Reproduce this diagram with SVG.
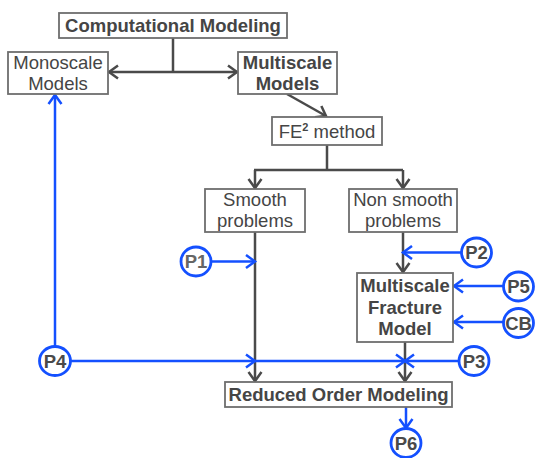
<svg xmlns="http://www.w3.org/2000/svg" width="540" height="458" viewBox="0 0 540 458">
<defs>
<marker id="ag" markerUnits="userSpaceOnUse" markerWidth="14" markerHeight="16" viewBox="0 0 14 16" refX="11" refY="8" orient="auto">
<path d="M2,1.5 L11,8 L2,14.5" fill="none" stroke="#4a4a4a" stroke-width="2.5"/>
</marker>
<marker id="ab" markerUnits="userSpaceOnUse" markerWidth="14" markerHeight="16" viewBox="0 0 14 16" refX="11" refY="8" orient="auto">
<path d="M2,1.5 L11,8 L2,14.5" fill="none" stroke="#1450ff" stroke-width="2.5"/>
</marker>
</defs>
<style>
.box{fill:#fff;stroke:#6e6e6e;stroke-width:1.8}
.t{font-family:"Liberation Sans",Arial,sans-serif;font-size:18.5px;fill:#454545;text-anchor:middle}
.b{font-weight:bold}
.g{fill:none;stroke:#4a4a4a;stroke-width:2.5}
.bl{fill:none;stroke:#1450ff;stroke-width:2.5}
.c{fill:#fff;stroke:#1450ff;stroke-width:2.8}
.ct{font-family:"Liberation Sans",Arial,sans-serif;font-size:18.5px;font-weight:bold;fill:#4a4a4a;text-anchor:middle}
</style>
<g id="connectors">
<path class="g" d="M173,38 V72"/>
<path class="g" d="M173,72 H109" marker-end="url(#ag)"/>
<path class="g" d="M173,72 H237" marker-end="url(#ag)"/>
<path class="g" d="M287,94 L326,116" marker-end="url(#ag)"/>
<path class="g" d="M327,145 V170 M254,170 H403"/>
<path class="g" d="M255,170 V188" marker-end="url(#ag)"/>
<path class="g" d="M403,170 V188" marker-end="url(#ag)"/>
<path class="g" d="M255,232 V381" marker-end="url(#ag)"/>
<path class="g" d="M403,232 V272" marker-end="url(#ag)"/>
<path class="g" d="M405,342 V381" marker-end="url(#ag)"/>
<path class="bl" d="M211,261.5 H255" marker-end="url(#ab)"/>
<path class="bl" d="M461,252.5 H403" marker-end="url(#ab)"/>
<path class="bl" d="M503,286 H454" marker-end="url(#ab)"/>
<path class="bl" d="M503,322 H454" marker-end="url(#ab)"/>
<path class="bl" d="M55,346 V95" marker-end="url(#ab)"/>
<path class="bl" d="M70,361 H255" marker-end="url(#ab)"/>
<path class="bl" d="M255,361 H405" marker-end="url(#ab)"/>
<path class="bl" d="M459,361 H405" marker-end="url(#ab)"/>
<path class="bl" d="M406,407 V428" marker-end="url(#ab)"/>
</g>
<g id="computational">
<rect class="box" x="59" y="13" width="228" height="25"/>
<text class="t b" x="173" y="32">Computational Modeling</text>
</g>
<g id="monoscale">
<rect class="box" x="8" y="52" width="100" height="42"/>
<text class="t" x="58" y="69">Monoscale</text>
<text class="t" x="58" y="90">Models</text>
</g>
<g id="multiscale">
<rect class="box" x="238" y="52" width="99" height="42"/>
<text class="t b" x="287.5" y="69">Multiscale</text>
<text class="t b" x="287.5" y="90">Models</text>
</g>
<g id="fe2">
<rect class="box" x="272" y="117" width="110" height="28"/>
<text class="t" x="327" y="138">FE<tspan font-size="11" font-weight="bold" dy="-7">2</tspan><tspan dy="7"> method</tspan></text>
</g>
<g id="smooth">
<rect class="box" x="205" y="189" width="100" height="43"/>
<text class="t" x="255" y="206">Smooth</text>
<text class="t" x="255" y="227">problems</text>
</g>
<g id="nonsmooth">
<rect class="box" x="349" y="189" width="108" height="43"/>
<text class="t" x="403" y="206">Non smooth</text>
<text class="t" x="403" y="227">problems</text>
</g>
<g id="fracture">
<rect class="box" x="357" y="273" width="96" height="69"/>
<text class="t b" x="405" y="292">Multiscale</text>
<text class="t b" x="405" y="313.5">Fracture</text>
<text class="t b" x="405" y="335">Model</text>
</g>
<g id="rom">
<rect class="box" x="225" y="382" width="227" height="25"/>
<text class="t b" x="338.5" y="401">Reduced Order Modeling</text>
</g>
<g id="p1"><ellipse class="c" cx="196" cy="261.5" rx="15" ry="14.5"/><text class="ct" x="196" y="268" style="fill:#666">P1</text></g>
<g id="p2"><ellipse class="c" cx="476.5" cy="252.5" rx="15" ry="14.5"/><text class="ct" x="476.5" y="259">P2</text></g>
<g id="p5"><ellipse class="c" cx="518.5" cy="286.5" rx="15" ry="14.5"/><text class="ct" x="518.5" y="293">P5</text></g>
<g id="cb"><ellipse class="c" cx="518.5" cy="323" rx="15" ry="14.5"/><text class="ct" x="518.5" y="329.5">CB</text></g>
<g id="p4"><ellipse class="c" cx="55" cy="361" rx="15.5" ry="14.5"/><text class="ct" x="55" y="367.5">P4</text></g>
<g id="p3"><ellipse class="c" cx="474" cy="361" rx="15" ry="14.5"/><text class="ct" x="474" y="367.5">P3</text></g>
<g id="p6"><ellipse class="c" cx="406" cy="443" rx="15" ry="14.5"/><text class="ct" x="406" y="449.5">P6</text></g>
</svg>
